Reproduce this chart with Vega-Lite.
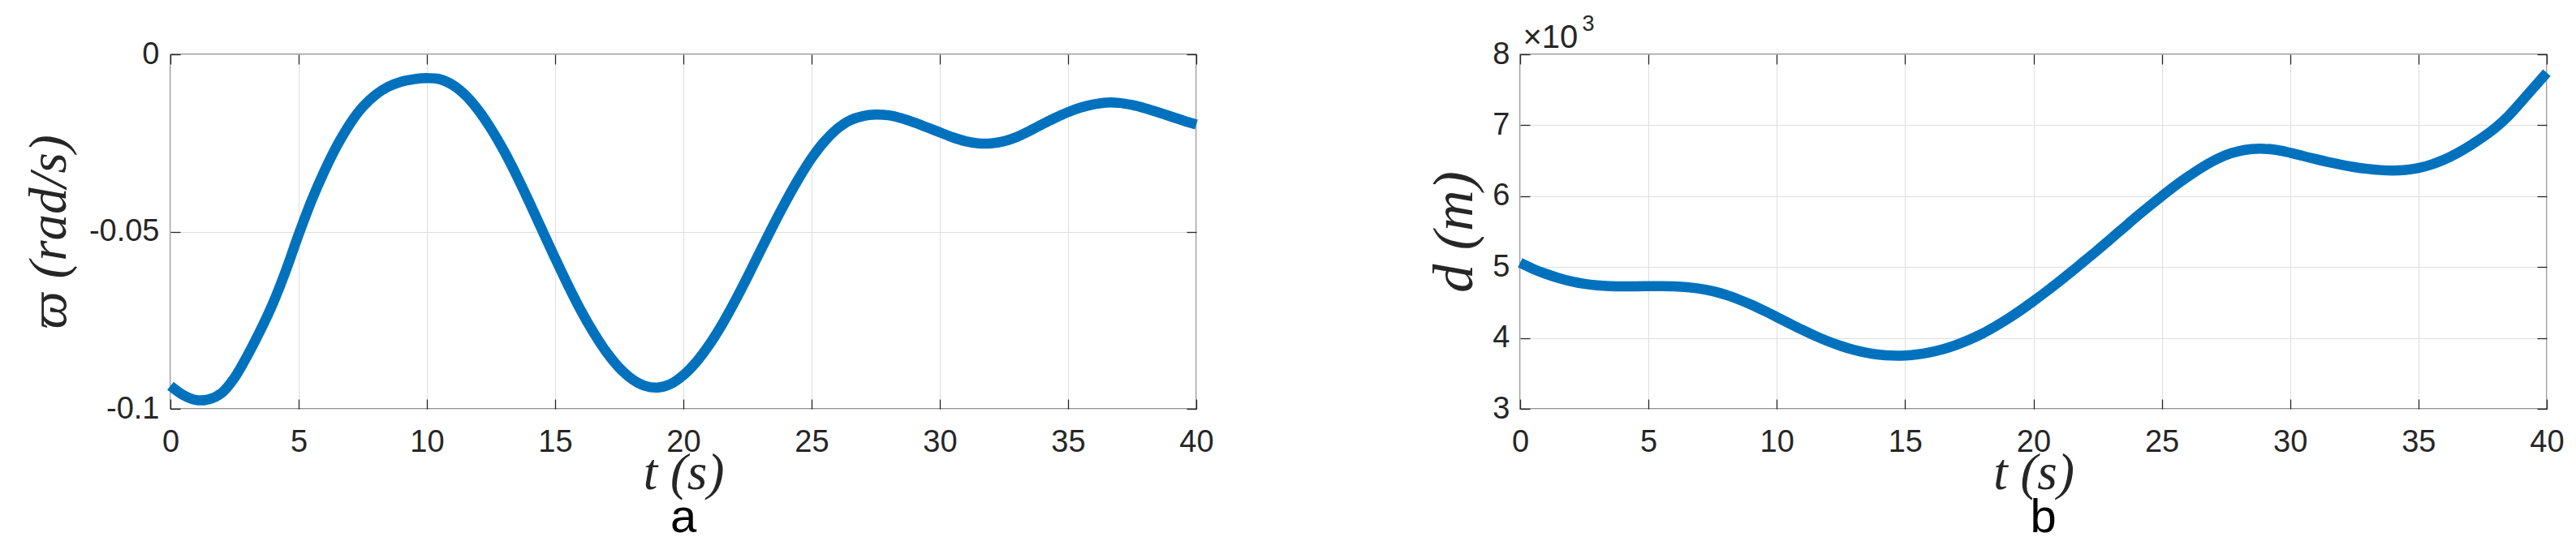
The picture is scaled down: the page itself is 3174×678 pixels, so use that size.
{
  "$schema": "https://vega.github.io/schema/vega-lite/v6.json",
  "background": "white",
  "padding": {"left": 27, "top": 14, "right": 5, "bottom": 0},
  "autosize": {"type": "pad"},
  "spacing": 399,
  "bounds": "flush",
  "config": {
    "view": {"stroke": "#262626", "strokeWidth": 1.3},
    "font": "Liberation Sans"
  },
  "datasets": {
    "omega": [
      {"t": 0, "omega": -0.0935}, {"t": 0.5, "omega": -0.0961}, {"t": 1, "omega": -0.0975}, {"t": 1.5, "omega": -0.0973},
      {"t": 2, "omega": -0.0955}, {"t": 2.5, "omega": -0.0912}, {"t": 3, "omega": -0.085}, {"t": 3.5, "omega": -0.078},
      {"t": 4, "omega": -0.0702}, {"t": 4.5, "omega": -0.061}, {"t": 5, "omega": -0.0508}, {"t": 5.5, "omega": -0.0413},
      {"t": 6, "omega": -0.033}, {"t": 6.5, "omega": -0.0257}, {"t": 7, "omega": -0.0196}, {"t": 7.5, "omega": -0.0148},
      {"t": 8, "omega": -0.0114}, {"t": 8.5, "omega": -0.0091}, {"t": 9, "omega": -0.0077}, {"t": 9.5, "omega": -0.007},
      {"t": 10, "omega": -0.0067}, {"t": 10.5, "omega": -0.007}, {"t": 11, "omega": -0.0086}, {"t": 11.5, "omega": -0.0115},
      {"t": 12, "omega": -0.0157}, {"t": 12.5, "omega": -0.021}, {"t": 13, "omega": -0.0272}, {"t": 13.5, "omega": -0.0342},
      {"t": 14, "omega": -0.0418}, {"t": 14.5, "omega": -0.0497}, {"t": 15, "omega": -0.0575}, {"t": 15.5, "omega": -0.0651},
      {"t": 16, "omega": -0.0722}, {"t": 16.5, "omega": -0.0785}, {"t": 17, "omega": -0.084}, {"t": 17.5, "omega": -0.0884},
      {"t": 18, "omega": -0.0916}, {"t": 18.5, "omega": -0.0935}, {"t": 19, "omega": -0.094}, {"t": 19.5, "omega": -0.093},
      {"t": 20, "omega": -0.0905}, {"t": 20.5, "omega": -0.0868}, {"t": 21, "omega": -0.082}, {"t": 21.5, "omega": -0.0763},
      {"t": 22, "omega": -0.0698}, {"t": 22.5, "omega": -0.0628}, {"t": 23, "omega": -0.0555}, {"t": 23.5, "omega": -0.0483},
      {"t": 24, "omega": -0.0414}, {"t": 24.5, "omega": -0.035}, {"t": 25, "omega": -0.0293}, {"t": 25.5, "omega": -0.0246},
      {"t": 26, "omega": -0.021}, {"t": 26.5, "omega": -0.0186}, {"t": 27, "omega": -0.0174}, {"t": 27.5, "omega": -0.017},
      {"t": 28, "omega": -0.0172}, {"t": 28.5, "omega": -0.018}, {"t": 29, "omega": -0.0192}, {"t": 29.5, "omega": -0.0206},
      {"t": 30, "omega": -0.022}, {"t": 30.5, "omega": -0.0234}, {"t": 31, "omega": -0.0245}, {"t": 31.5, "omega": -0.0251},
      {"t": 32, "omega": -0.0251}, {"t": 32.5, "omega": -0.0245}, {"t": 33, "omega": -0.0233}, {"t": 33.5, "omega": -0.0216},
      {"t": 34, "omega": -0.0197}, {"t": 34.5, "omega": -0.0179}, {"t": 35, "omega": -0.0163}, {"t": 35.5, "omega": -0.015},
      {"t": 36, "omega": -0.0141}, {"t": 36.5, "omega": -0.0136}, {"t": 37, "omega": -0.0137}, {"t": 37.5, "omega": -0.0143},
      {"t": 38, "omega": -0.0152}, {"t": 38.5, "omega": -0.0163}, {"t": 39, "omega": -0.0175}, {"t": 39.5, "omega": -0.0187},
      {"t": 40, "omega": -0.0198}
    ],
    "dist": [
      {"t": 0, "d": 5060}, {"t": 0.5, "d": 4975}, {"t": 1, "d": 4905}, {"t": 1.5, "d": 4845},
      {"t": 2, "d": 4797}, {"t": 2.5, "d": 4763}, {"t": 3, "d": 4742}, {"t": 3.5, "d": 4731},
      {"t": 4, "d": 4727}, {"t": 4.5, "d": 4728}, {"t": 5, "d": 4730}, {"t": 5.5, "d": 4731},
      {"t": 6, "d": 4728}, {"t": 6.5, "d": 4716}, {"t": 7, "d": 4694}, {"t": 7.5, "d": 4660},
      {"t": 8, "d": 4610}, {"t": 8.5, "d": 4545}, {"t": 9, "d": 4470}, {"t": 9.5, "d": 4385},
      {"t": 10, "d": 4295}, {"t": 10.5, "d": 4203}, {"t": 11, "d": 4113}, {"t": 11.5, "d": 4028},
      {"t": 12, "d": 3952}, {"t": 12.5, "d": 3887}, {"t": 13, "d": 3832}, {"t": 13.5, "d": 3791},
      {"t": 14, "d": 3764}, {"t": 14.5, "d": 3751}, {"t": 15, "d": 3753}, {"t": 15.5, "d": 3770},
      {"t": 16, "d": 3800}, {"t": 16.5, "d": 3844}, {"t": 17, "d": 3903}, {"t": 17.5, "d": 3975},
      {"t": 18, "d": 4060}, {"t": 18.5, "d": 4160}, {"t": 19, "d": 4270}, {"t": 19.5, "d": 4390},
      {"t": 20, "d": 4520}, {"t": 20.5, "d": 4655}, {"t": 21, "d": 4795}, {"t": 21.5, "d": 4940},
      {"t": 22, "d": 5090}, {"t": 22.5, "d": 5240}, {"t": 23, "d": 5395}, {"t": 23.5, "d": 5550},
      {"t": 24, "d": 5705}, {"t": 24.5, "d": 5855}, {"t": 25, "d": 6000}, {"t": 25.5, "d": 6140},
      {"t": 26, "d": 6270}, {"t": 26.5, "d": 6390}, {"t": 27, "d": 6495}, {"t": 27.5, "d": 6580},
      {"t": 28, "d": 6635}, {"t": 28.5, "d": 6664}, {"t": 29, "d": 6668}, {"t": 29.5, "d": 6650},
      {"t": 30, "d": 6612}, {"t": 30.5, "d": 6567}, {"t": 31, "d": 6522}, {"t": 31.5, "d": 6480},
      {"t": 32, "d": 6443}, {"t": 32.5, "d": 6410}, {"t": 33, "d": 6385}, {"t": 33.5, "d": 6368},
      {"t": 34, "d": 6361}, {"t": 34.5, "d": 6370}, {"t": 35, "d": 6396}, {"t": 35.5, "d": 6445},
      {"t": 36, "d": 6515}, {"t": 36.5, "d": 6605}, {"t": 37, "d": 6710}, {"t": 37.5, "d": 6830},
      {"t": 38, "d": 6965}, {"t": 38.5, "d": 7130}, {"t": 39, "d": 7330}, {"t": 39.5, "d": 7535},
      {"t": 40, "d": 7740}
    ]
  },
  "hconcat": [
    {
      "width": 1264,
      "height": 437,
      "data": {"name": "omega"},
      "title": {"text": "a", "orient": "bottom", "anchor": "middle", "font": "Liberation Sans", "fontSize": 58, "fontWeight": "normal", "color": "#000000", "baseline": "alphabetic", "offset": 41},
      "layer": [
        {
          "mark": {"type": "line", "color": "#0072BD", "strokeWidth": 12.5, "strokeCap": "butt", "strokeJoin": "round", "interpolate": "catmull-rom"},
          "encoding": {
            "x": {"field": "t", "type": "quantitative", "scale": {"domain": [0, 40], "nice": false, "zero": false},
              "axis": {"orient": "bottom", "values": [0, 5, 10, 15, 20, 25, 30, 35, 40], "labelExpr": "'' + datum.value", "domain": false,
                "tickSize": -12, "tickColor": "#262626", "tickWidth": 1.3, "labelPadding": 34, "labelFont": "Liberation Sans", "labelFontSize": 38, "labelColor": "#262626", "labelOverlap": false, "labelFlush": false,
                "grid": true, "gridColor": "#dedede", "gridWidth": 1,
                "title": "t (s)", "titleFont": "Liberation Serif", "titleFontStyle": "italic", "titleFontWeight": "normal", "titleFontSize": 63, "titleColor": "#262626",
                "titleX": 632, "titleY": 98, "titleAlign": "center", "titleBaseline": "alphabetic", "titleAngle": 0}},
            "y": {"field": "omega", "type": "quantitative", "scale": {"domain": [-0.1, 0], "nice": false, "zero": false},
              "axis": {"orient": "left", "values": [-0.1, -0.05, 0], "labelExpr": "'' + datum.value", "domain": false,
                "tickSize": -12, "tickColor": "#262626", "tickWidth": 1.3, "labelPadding": 26, "labelFont": "Liberation Sans", "labelFontSize": 38, "labelColor": "#262626", "labelOverlap": false, "labelFlush": false,
                "grid": true, "gridColor": "#dedede", "gridWidth": 1,
                "title": "ϖ (rad/s)", "titleFont": "Liberation Serif, DejaVu Serif", "titleFontStyle": "italic", "titleFontWeight": "normal", "titleFontSize": 65, "titleColor": "#262626",
                "titleX": -130, "titleY": 218.5, "titleAlign": "center", "titleBaseline": "alphabetic", "titleAngle": -90}}
          }
        },
        {
          "mark": {"type": "line", "strokeOpacity": 0},
          "encoding": {
            "x": {"field": "t", "type": "quantitative", "scale": {"domain": [0, 40], "nice": false, "zero": false},
              "axis": {"orient": "top", "values": [0, 5, 10, 15, 20, 25, 30, 35, 40], "labels": false, "domain": false, "grid": false,
                "tickSize": -12, "tickColor": "#262626", "tickWidth": 1.3, "title": null}},
            "y": {"field": "omega", "type": "quantitative", "scale": {"domain": [-0.1, 0], "nice": false, "zero": false},
              "axis": {"orient": "right", "values": [-0.1, -0.05, 0], "labels": false, "domain": false, "grid": false,
                "tickSize": -12, "tickColor": "#262626", "tickWidth": 1.3, "title": null}}
          }
        }
      ],
      "resolve": {"scale": {"x": "independent", "y": "independent"}, "axis": {"x": "independent", "y": "independent"}}
    },
    {
      "width": 1265,
      "height": 437,
      "data": {"name": "dist"},
      "title": {"text": "b", "orient": "bottom", "anchor": "middle", "font": "Liberation Sans", "fontSize": 58, "fontWeight": "normal", "color": "#000000", "baseline": "alphabetic", "offset": 41, "dx": 12},
      "layer": [
        {
          "mark": {"type": "line", "color": "#0072BD", "strokeWidth": 12.5, "strokeCap": "butt", "strokeJoin": "round", "interpolate": "catmull-rom"},
          "encoding": {
            "x": {"field": "t", "type": "quantitative", "scale": {"domain": [0, 40], "nice": false, "zero": false},
              "axis": {"orient": "bottom", "values": [0, 5, 10, 15, 20, 25, 30, 35, 40], "labelExpr": "'' + datum.value", "domain": false,
                "tickSize": -12, "tickColor": "#262626", "tickWidth": 1.3, "labelPadding": 34, "labelFont": "Liberation Sans", "labelFontSize": 38, "labelColor": "#262626", "labelOverlap": false, "labelFlush": false,
                "grid": true, "gridColor": "#dedede", "gridWidth": 1,
                "title": "t (s)", "titleFont": "Liberation Serif", "titleFontStyle": "italic", "titleFontWeight": "normal", "titleFontSize": 63, "titleColor": "#262626",
                "titleX": 632.5, "titleY": 98, "titleAlign": "center", "titleBaseline": "alphabetic", "titleAngle": 0}},
            "y": {"field": "d", "type": "quantitative", "scale": {"domain": [3000, 8000], "nice": false, "zero": false},
              "axis": {"orient": "left", "values": [3000, 4000, 5000, 6000, 7000, 8000], "labelExpr": "'' + datum.value / 1000", "domain": false,
                "tickSize": -12, "tickColor": "#262626", "tickWidth": 1.3, "labelPadding": 25, "labelFont": "Liberation Sans", "labelFontSize": 38, "labelColor": "#262626", "labelOverlap": false, "labelFlush": false,
                "grid": true, "gridColor": "#dedede", "gridWidth": 1,
                "title": "d (m)", "titleFont": "Liberation Serif", "titleFontStyle": "italic", "titleFontWeight": "normal", "titleFontSize": 70, "titleColor": "#262626",
                "titleX": -60, "titleY": 218.5, "titleAlign": "center", "titleBaseline": "alphabetic", "titleAngle": -90}}
          }
        },
        {
          "mark": {"type": "line", "strokeOpacity": 0},
          "encoding": {
            "x": {"field": "t", "type": "quantitative", "scale": {"domain": [0, 40], "nice": false, "zero": false},
              "axis": {"orient": "top", "values": [0, 5, 10, 15, 20, 25, 30, 35, 40], "labels": false, "domain": false, "grid": false,
                "tickSize": -12, "tickColor": "#262626", "tickWidth": 1.3,
                "title": "×10", "titleFont": "Liberation Sans", "titleFontStyle": "normal", "titleFontWeight": "normal", "titleFontSize": 40, "titleColor": "#262626",
                "titleX": 3, "titleY": -9, "titleAlign": "left", "titleBaseline": "alphabetic", "titleAngle": 0}},
            "y": {"field": "d", "type": "quantitative", "scale": {"domain": [3000, 8000], "nice": false, "zero": false},
              "axis": {"orient": "right", "values": [3000, 4000, 5000, 6000, 7000, 8000], "labels": false, "domain": false, "grid": false,
                "tickSize": -12, "tickColor": "#262626", "tickWidth": 1.3,
                "title": "3", "titleFont": "Liberation Sans", "titleFontStyle": "normal", "titleFontWeight": "normal", "titleFontSize": 27, "titleColor": "#262626",
                "titleX": -1189, "titleY": -30, "titleAlign": "left", "titleBaseline": "alphabetic", "titleAngle": 0}}
          }
        }
      ],
      "resolve": {"scale": {"x": "independent", "y": "independent"}, "axis": {"x": "independent", "y": "independent"}}
    }
  ]
}
